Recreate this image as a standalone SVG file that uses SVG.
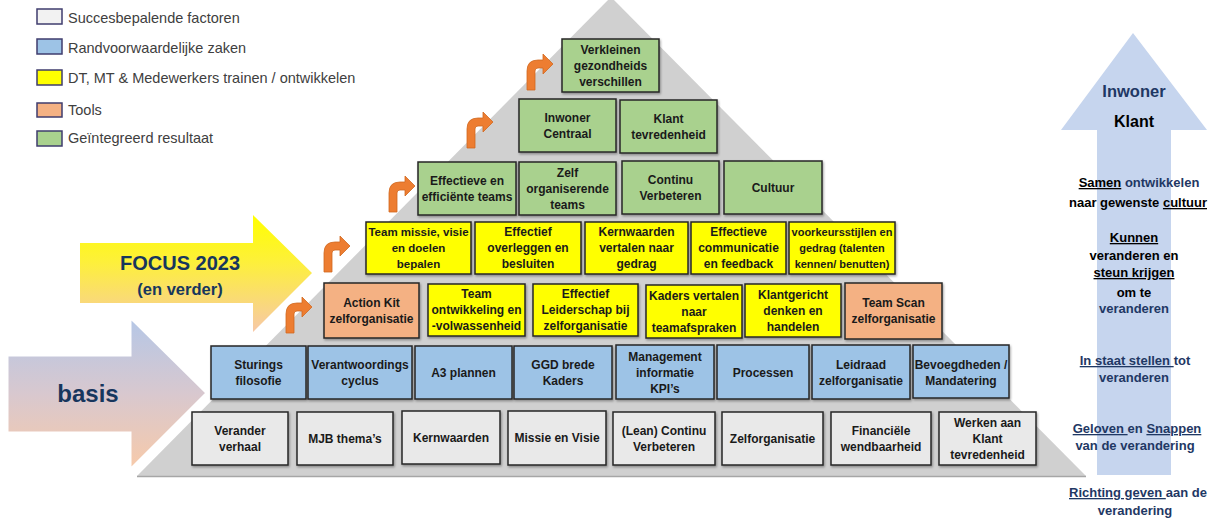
<svg xmlns="http://www.w3.org/2000/svg" xmlns:xlink="http://www.w3.org/1999/xlink" width="1216" height="522" viewBox="0 0 1216 522">
<defs>
<style>
.bx{stroke:#262626;stroke-width:1.5;filter:url(#sh)}
.g{fill:#a9d18e}.y{fill:#ffff00}.o{fill:#f4b183}.b{fill:#9dc3e6}.w{fill:#e9e9e9}
.t{font-family:"Liberation Sans",Arial,sans-serif;font-weight:bold;font-size:12px;fill:#1a1a1a;text-anchor:middle}
.sm{font-size:11px}
.lg{stroke:#3f3d6e;stroke-width:1.5}
.lt{font-family:"Liberation Sans",Arial,sans-serif;font-size:14.5px;fill:#404040}
.r{font-family:"Liberation Sans",Arial,sans-serif;font-weight:bold;font-size:13px;text-anchor:middle;fill:#1f3864}
.k{fill:#000}
.u{text-decoration:underline}
.oa{fill:#ed7d31;stroke:#d0681f;stroke-width:0.8}
</style>
<filter id="sh" x="-10%" y="-10%" width="125%" height="130%">
<feDropShadow dx="1" dy="1.5" stdDeviation="1.2" flood-color="#000" flood-opacity="0.35"/>
</filter>
<linearGradient id="gf" x1="0" y1="0" x2="0" y2="1">
<stop offset="0" stop-color="#ffff00"/>
<stop offset="0.4" stop-color="#fdf03a"/>
<stop offset="1" stop-color="#f7c8a8"/>
</linearGradient>
<linearGradient id="gb" x1="0" y1="0" x2="0" y2="1">
<stop offset="0" stop-color="#b4c7e7"/>
<stop offset="0.5" stop-color="#d8c8cf"/>
<stop offset="1" stop-color="#f8caa9"/>
</linearGradient>
<path id="bend" d="M0,0 V-19 Q0,-30 11,-30 H16 V-36 L26,-26 L16,-16 V-22 H11 Q8,-22 8,-19 V0 Z"/>
</defs>

<!-- pyramid -->
<g id="pyramid">
<polygon points="611,-3 137,476 1086,476" fill="#d0d0d0"/>
<line x1="137" y1="476.5" x2="1086" y2="476.5" stroke="#a6a6a6" stroke-width="1.5"/>
</g>

<!-- right arrow -->
<g id="arrow-up">
<polygon points="1133,33 1207,130 1171,130 1171,475 1097,475 1097,130 1061,130" fill="#c6d5ee"/>
</g>

<!-- left arrows -->
<g id="arrow-focus">
<polygon points="80,243 253,243 253,215 312,273 253,332 253,303 80,303" fill="url(#gf)"/>
<text x="180" y="270" font-family="Liberation Sans,Arial,sans-serif" font-weight="bold" font-size="20" fill="#17365d" text-anchor="middle">FOCUS 2023</text>
<text x="180" y="295" font-family="Liberation Sans,Arial,sans-serif" font-weight="bold" font-size="16.5" fill="#17365d" text-anchor="middle">(en verder)</text>
</g>
<g id="arrow-basis">
<polygon points="7,355 130,355 130,317 207,393 130,470 130,433 7,433" fill="url(#gb)" stroke="#ffffff" stroke-width="3"/>
<text x="88" y="402" font-family="Liberation Sans,Arial,sans-serif" font-weight="bold" font-size="24" fill="#17365d" text-anchor="middle">basis</text>
</g>

<!-- legend -->
<g id="legend">
<rect class="lg" x="37" y="9" width="25" height="15" fill="#f2f2f2"/>
<text class="lt" x="68" y="23">Succesbepalende factoren</text>
<rect class="lg" x="37" y="39" width="25" height="15" fill="#9dc3e6"/>
<text class="lt" x="68" y="53">Randvoorwaardelijke zaken</text>
<rect class="lg" x="37" y="70" width="25" height="15" fill="#ffff00"/>
<text class="lt" x="68" y="83">DT, MT &amp; Medewerkers trainen / ontwikkelen</text>
<rect class="lg" x="37" y="103" width="25" height="14" fill="#f4b183"/>
<text class="lt" x="68" y="115">Tools</text>
<rect class="lg" x="37" y="131" width="25" height="15" fill="#a9d18e"/>
<text class="lt" x="68" y="143">Geïntegreerd resultaat</text>
</g>

<!-- connectors (bent step arrows) -->
<g id="connectors" class="oa">
<use xlink:href="#bend" transform="translate(286,333)"/>
<use xlink:href="#bend" transform="translate(324,272)"/>
<use xlink:href="#bend" transform="translate(389,212)"/>
<use xlink:href="#bend" transform="translate(467,148)"/>
<use xlink:href="#bend" transform="translate(527,90)"/>
</g>

<!-- row 1 -->
<g id="n-verkleinen"><rect class="bx g" x="562" y="39" width="97" height="53"/><text class="t"><tspan x="610.5" y="53.5">Verkleinen</tspan><tspan x="610.5" y="69.5">gezondheids</tspan><tspan x="610.5" y="85.5">verschillen</tspan></text></g>
<!-- row 2 -->
<g id="n-inwoner"><rect class="bx g" x="519" y="99" width="97" height="53"/><text class="t"><tspan x="567.5" y="121.5">Inwoner</tspan><tspan x="567.5" y="137.5">Centraal</tspan></text></g>
<g id="n-klant"><rect class="bx g" x="620" y="100" width="97" height="53"/><text class="t"><tspan x="668.5" y="122.5">Klant</tspan><tspan x="668.5" y="138.5">tevredenheid</tspan></text></g>
<!-- row 3 -->
<g id="n-effteams"><rect class="bx g" x="418" y="162" width="98" height="53"/><text class="t"><tspan x="467" y="184.5">Effectieve en</tspan><tspan x="467" y="200.5">efficiënte teams</tspan></text></g>
<g id="n-zelforg"><rect class="bx g" x="519" y="162" width="97" height="53"/><text class="t"><tspan x="567.5" y="176.5">Zelf</tspan><tspan x="567.5" y="192.5">organiserende</tspan><tspan x="567.5" y="208.5">teams</tspan></text></g>
<g id="n-continu"><rect class="bx g" x="622" y="161" width="97" height="53"/><text class="t"><tspan x="670.5" y="183.5">Continu</tspan><tspan x="670.5" y="199.5">Verbeteren</tspan></text></g>
<g id="n-cultuur"><rect class="bx g" x="724" y="161" width="98" height="53"/><text class="t"><tspan x="773" y="191.5">Cultuur</tspan></text></g>
<!-- row 4 -->
<g id="n-teammissie"><rect class="bx y" x="366" y="222" width="105" height="52"/><text class="t" style="font-size:11.5px"><tspan x="418.5" y="236">Team missie, visie</tspan><tspan x="418.5" y="252">en doelen</tspan><tspan x="418.5" y="268">bepalen</tspan></text></g>
<g id="n-overleggen"><rect class="bx y" x="475" y="222" width="106" height="52"/><text class="t"><tspan x="528" y="236">Effectief</tspan><tspan x="528" y="252">overleggen en</tspan><tspan x="528" y="268">besluiten</tspan></text></g>
<g id="n-kernwaarden-gedrag"><rect class="bx y" x="585" y="222" width="103" height="52"/><text class="t"><tspan x="636.5" y="236">Kernwaarden</tspan><tspan x="636.5" y="252">vertalen naar</tspan><tspan x="636.5" y="268">gedrag</tspan></text></g>
<g id="n-communicatie"><rect class="bx y" x="691" y="222" width="95" height="52"/><text class="t"><tspan x="738.5" y="236">Effectieve</tspan><tspan x="738.5" y="252">communicatie</tspan><tspan x="738.5" y="268">en feedback</tspan></text></g>
<g id="n-voorkeur"><rect class="bx y" x="789" y="222" width="106" height="52"/><text class="t sm"><tspan x="842" y="236">voorkeursstijlen en</tspan><tspan x="842" y="252">gedrag (talenten</tspan><tspan x="842" y="268">kennen/ benutten)</tspan></text></g>
<!-- row 5 -->
<g id="n-actionkit"><rect class="bx o" x="324" y="283" width="95" height="55"/><text class="t"><tspan x="371.5" y="306.5">Action Kit</tspan><tspan x="371.5" y="322.5">zelforganisatie</tspan></text></g>
<g id="n-teamontw"><rect class="bx y" x="428" y="284" width="97" height="52"/><text class="t"><tspan x="476.5" y="298">Team</tspan><tspan x="476.5" y="314">ontwikkeling en</tspan><tspan x="476.5" y="330">-volwassenheid</tspan></text></g>
<g id="n-leiderschap"><rect class="bx y" x="533" y="284" width="105" height="52"/><text class="t"><tspan x="585.5" y="298">Effectief</tspan><tspan x="585.5" y="314">Leiderschap bij</tspan><tspan x="585.5" y="330">zelforganisatie</tspan></text></g>
<g id="n-kaders-vertalen"><rect class="bx y" x="646" y="285" width="96" height="53"/><text class="t"><tspan x="694" y="299.5">Kaders vertalen</tspan><tspan x="694" y="315.5">naar</tspan><tspan x="694" y="331.5">teamafspraken</tspan></text></g>
<g id="n-klantgericht"><rect class="bx y" x="745" y="284" width="96" height="53"/><text class="t"><tspan x="793" y="298.5">Klantgericht</tspan><tspan x="793" y="314.5">denken en</tspan><tspan x="793" y="330.5">handelen</tspan></text></g>
<g id="n-teamscan"><rect class="bx o" x="845" y="283" width="97" height="56"/><text class="t"><tspan x="893.5" y="307">Team Scan</tspan><tspan x="893.5" y="323">zelforganisatie</tspan></text></g>
<!-- row 6 -->
<g id="n-sturing"><rect class="bx b" x="211" y="346" width="95" height="53"/><text class="t"><tspan x="258.5" y="368.5">Sturings</tspan><tspan x="258.5" y="384.5">filosofie</tspan></text></g>
<g id="n-verantw"><rect class="bx b" x="308" y="346" width="104" height="53"/><text class="t"><tspan x="360" y="368.5">Verantwoordings</tspan><tspan x="360" y="384.5">cyclus</tspan></text></g>
<g id="n-a3"><rect class="bx b" x="415" y="346" width="97" height="53"/><text class="t"><tspan x="463.5" y="376.5">A3 plannen</tspan></text></g>
<g id="n-ggd"><rect class="bx b" x="514" y="346" width="98" height="53"/><text class="t"><tspan x="563" y="368.5">GGD brede</tspan><tspan x="563" y="384.5">Kaders</tspan></text></g>
<g id="n-mi"><rect class="bx b" x="616" y="345" width="98" height="54"/><text class="t"><tspan x="665" y="360.5">Management</tspan><tspan x="665" y="376.5">informatie</tspan><tspan x="665" y="392.5">KPI’s</tspan></text></g>
<g id="n-processen"><rect class="bx b" x="717" y="345" width="92" height="54"/><text class="t"><tspan x="763" y="376.5">Processen</tspan></text></g>
<g id="n-leidraad"><rect class="bx b" x="812" y="345" width="98" height="54"/><text class="t"><tspan x="861" y="368.5">Leidraad</tspan><tspan x="861" y="384.5">zelforganisatie</tspan></text></g>
<g id="n-bevoegd"><rect class="bx b" x="913" y="345" width="96" height="53"/><text class="t"><tspan x="961" y="368.5">Bevoegdheden /</tspan><tspan x="961" y="384.5">Mandatering</tspan></text></g>
<!-- row 7 -->
<g id="n-verander"><rect class="bx w" x="192" y="412" width="96" height="53"/><text class="t"><tspan x="240" y="434.5">Verander</tspan><tspan x="240" y="450.5">verhaal</tspan></text></g>
<g id="n-mjb"><rect class="bx w" x="297" y="412" width="96" height="53"/><text class="t"><tspan x="345" y="442.5">MJB thema’s</tspan></text></g>
<g id="n-kernwaarden"><rect class="bx w" x="402" y="411" width="98" height="53"/><text class="t"><tspan x="451" y="441.5">Kernwaarden</tspan></text></g>
<g id="n-missie"><rect class="bx w" x="508" y="411" width="98" height="54"/><text class="t"><tspan x="557" y="441.5">Missie en Visie</tspan></text></g>
<g id="n-lean"><rect class="bx w" x="613" y="412" width="102" height="53"/><text class="t"><tspan x="664" y="434.5">(Lean) Continu</tspan><tspan x="664" y="450.5">Verbeteren</tspan></text></g>
<g id="n-zelforganisatie"><rect class="bx w" x="722" y="412" width="101" height="53"/><text class="t"><tspan x="772.5" y="442.5">Zelforganisatie</tspan></text></g>
<g id="n-financieel"><rect class="bx w" x="831" y="412" width="100" height="53"/><text class="t"><tspan x="881" y="434.5">Financiële</tspan><tspan x="881" y="450.5">wendbaarheid</tspan></text></g>
<g id="n-werken"><rect class="bx w" x="939" y="412" width="97" height="53"/><text class="t"><tspan x="987.5" y="426.5">Werken aan</tspan><tspan x="987.5" y="442.5">Klant</tspan><tspan x="987.5" y="458.5">tevredenheid</tspan></text></g>

<!-- right column texts -->
<g id="right-texts">
<text class="r" x="1134" y="97" style="font-size:16.5px">Inwoner</text>
<text class="r k" x="1134" y="127" style="font-size:16px">Klant</text>
<text class="r" x="1139" y="187"><tspan class="k u">Samen</tspan> ontwikkelen</text>
<text class="r k" x="1138" y="207">naar gewenste <tspan class="u">cultuur</tspan></text>
<text class="r k u" x="1134" y="242">Kunnen</text>
<text class="r k" x="1134" y="260">veranderen en</text>
<text class="r k u" x="1134" y="277">steun krijgen</text>
<text class="r k" x="1134" y="297">om te</text>
<text class="r" x="1134" y="313">veranderen</text>
<text class="r" x="1135" y="365"><tspan class="u">In staat stellen </tspan>tot</text>
<text class="r" x="1134" y="382">veranderen</text>
<text class="r" x="1137" y="433"><tspan class="u">Geloven </tspan>en <tspan class="u">Snappen</tspan></text>
<text class="r" x="1135" y="450">van de verandering</text>
<text class="r" x="1138" y="497"><tspan class="u">Richting geven </tspan>aan de</text>
<text class="r" x="1135" y="515">verandering</text>
</g>
</svg>
